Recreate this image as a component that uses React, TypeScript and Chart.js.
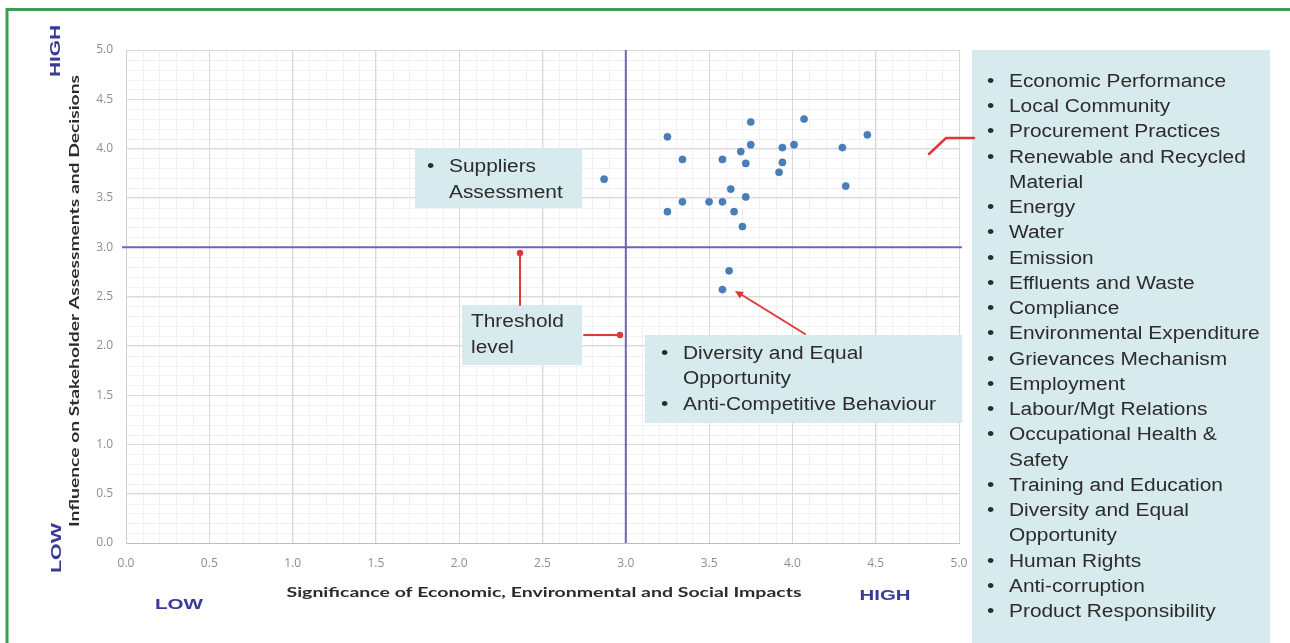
import React, { useEffect, useRef } from "react";
import { Chart, registerables } from "chart.js";

Chart.register(...registerables);

// ---- data ----
const significance = [
  3.25, 3.75, 4.07, 4.45, 3.34, 3.58, 3.69, 3.75, 3.72, 3.94, 4.01, 4.3, 3.94,
  3.92, 4.32, 2.87, 3.63, 3.72, 3.34, 3.5, 3.58, 3.25, 3.65, 3.7, 3.62, 3.58,
];
const influence = [
  4.12, 4.27, 4.3, 4.14, 3.89, 3.89, 3.97, 4.04, 3.85, 4.01, 4.04, 4.01, 3.86,
  3.76, 3.62, 3.69, 3.59, 3.51, 3.46, 3.46, 3.46, 3.36, 3.36, 3.21, 2.76, 2.57,
];
const axisTicks = [0, 0.5, 1, 1.5, 2, 2.5, 3, 3.5, 4, 4.5, 5];
const thresholdValue = 3.0;

const materialTopics = [
  "Economic Performance",
  "Local Community",
  "Procurement Practices",
  "Renewable and Recycled Material",
  "Energy",
  "Water",
  "Emission",
  "Effluents and Waste",
  "Compliance",
  "Environmental Expenditure",
  "Grievances Mechanism",
  "Employment",
  "Labour/Mgt Relations",
  "Occupational Health & Safety",
  "Training and Education",
  "Diversity and Equal Opportunity",
  "Human Rights",
  "Anti-corruption",
  "Product Responsibility",
];
const supplierNote = ["Suppliers", "Assessment"];
const thresholdNote = ["Threshold", "level"];
const lowTopics = ["Diversity and Equal Opportunity", "Anti-Competitive Behaviour"];

const xTitle = "Significance of Economic, Environmental and Social Impacts";
const yTitle = "Influence on Stakeholder Assessments and Decisions";

// ---- styles ----
const BOX_FILL = "#d7eaed";
const TEXT_DARK = "#2c2c2c";
const RED = "#e0383a";
const PURPLE = "#6c64bd";
const LEVEL = "#3b3a98";
const BOX_FONT = '18px "Liberation Sans", Arial, sans-serif';
const SX = 1.16;

function drawScaled(ctx: CanvasRenderingContext2D, text: string, x: number, y: number, sx: number) {
  ctx.save();
  ctx.translate(x, y);
  ctx.scale(sx, 1);
  ctx.fillText(text, 0, 0);
  ctx.restore();
}

function drawFit(
  ctx: CanvasRenderingContext2D,
  text: string,
  cx: number,
  cy: number,
  width: number,
  rot = 0
) {
  ctx.save();
  ctx.translate(cx, cy);
  ctx.rotate(rot);
  const w = ctx.measureText(text).width;
  ctx.scale(width / w, 1);
  ctx.textAlign = "center";
  ctx.textBaseline = "middle";
  ctx.fillText(text, 0, 0);
  ctx.restore();
}

function wrap(ctx: CanvasRenderingContext2D, text: string, maxW: number): string[] {
  const words = text.split(" ");
  const lines: string[] = [];
  let cur = "";
  for (const w of words) {
    const t = cur ? cur + " " + w : w;
    if (ctx.measureText(t).width * SX > maxW && cur) {
      lines.push(cur);
      cur = w;
    } else cur = t;
  }
  if (cur) lines.push(cur);
  return lines;
}

function dot(ctx: CanvasRenderingContext2D, x: number, y: number, r = 3.2) {
  ctx.beginPath();
  ctx.arc(x, y, r, 0, Math.PI * 2);
  ctx.fill();
}

const decorPlugin = {
  id: "decor",
  beforeDraw(chart: any) {
    const { ctx, chartArea, scales } = chart;
    ctx.save();
    ctx.fillStyle = "#ffffff";
    ctx.fillRect(0, 0, chart.width, chart.height);
    // minor grid
    ctx.strokeStyle = "#f1f1f1";
    ctx.lineWidth = 1;
    for (let i = 0; i <= 50; i++) {
      const v = i / 10;
      const px = Math.round(scales.x.getPixelForValue(v)) + 0.5;
      const py = Math.round(scales.y.getPixelForValue(v)) + 0.5;
      ctx.beginPath();
      ctx.moveTo(px, chartArea.top);
      ctx.lineTo(px, chartArea.bottom);
      ctx.stroke();
      ctx.beginPath();
      ctx.moveTo(chartArea.left, py);
      ctx.lineTo(chartArea.right, py);
      ctx.stroke();
    }
    ctx.restore();
  },
  beforeDatasetsDraw(chart: any) {
    const { ctx, chartArea, scales } = chart;
    ctx.save();
    // threshold lines
    ctx.strokeStyle = PURPLE;
    ctx.lineWidth = 2;
    const tx = scales.x.getPixelForValue(thresholdValue);
    const ty = scales.y.getPixelForValue(thresholdValue);
    ctx.beginPath();
    ctx.moveTo(tx, chartArea.top);
    ctx.lineTo(tx, chartArea.bottom);
    ctx.stroke();
    ctx.beginPath();
    ctx.moveTo(chartArea.left - 4, ty);
    ctx.lineTo(chartArea.right + 3, ty);
    ctx.stroke();

    // annotation boxes
    ctx.fillStyle = BOX_FILL;
    ctx.fillRect(415, 148, 167, 60);
    ctx.fillRect(462, 305, 120, 60);
    ctx.fillRect(645, 335, 317, 88);
    ctx.fillRect(972, 50, 298, 593);

    ctx.fillStyle = TEXT_DARK;
    ctx.font = BOX_FONT;
    ctx.textBaseline = "middle";
    ctx.textAlign = "left";
    // suppliers
    drawScaled(ctx, "•", 427, 167, SX);
    drawScaled(ctx, supplierNote[0], 449, 167, SX);
    drawScaled(ctx, supplierNote[1], 449, 193, SX);
    // threshold
    drawScaled(ctx, thresholdNote[0], 471, 322, SX);
    drawScaled(ctx, thresholdNote[1], 471, 348, SX);
    // low topics
    let ly = 354;
    for (const t of lowTopics) {
      const lines = wrap(ctx, t, 265);
      drawScaled(ctx, "•", 661, ly, SX);
      for (const l of lines) {
        drawScaled(ctx, l, 683, ly, SX);
        ly += 25.5;
      }
    }
    // material topics list
    let y = 82;
    for (const t of materialTopics) {
      const lines = wrap(ctx, t, 256);
      drawScaled(ctx, "•", 987, y, SX);
      for (const l of lines) {
        drawScaled(ctx, l, 1009, y, SX);
        y += 25.24;
      }
    }
    ctx.restore();
  },
  afterDatasetsDraw(chart: any) {
    const { ctx } = chart;
    ctx.save();
    ctx.strokeStyle = RED;
    ctx.fillStyle = RED;
    ctx.lineWidth = 2;
    ctx.lineCap = "round";
    // threshold arrows
    ctx.beginPath();
    ctx.moveTo(520, 305);
    ctx.lineTo(520, 253);
    ctx.stroke();
    dot(ctx, 520, 253);
    ctx.beginPath();
    ctx.moveTo(584, 335);
    ctx.lineTo(620, 335);
    ctx.stroke();
    dot(ctx, 620, 335);
    // diversity arrow
    ctx.beginPath();
    ctx.moveTo(805, 334);
    ctx.lineTo(742, 295);
    ctx.stroke();
    const ang = Math.atan2(295 - 334, 742 - 805);
    ctx.beginPath();
    ctx.moveTo(735, 291);
    ctx.lineTo(735 - 9 * Math.cos(ang - 0.45), 291 - 9 * Math.sin(ang - 0.45));
    ctx.lineTo(735 - 9 * Math.cos(ang + 0.45), 291 - 9 * Math.sin(ang + 0.45));
    ctx.closePath();
    ctx.fill();
    // connector to list
    ctx.lineWidth = 2.5;
    ctx.beginPath();
    ctx.moveTo(929, 154);
    ctx.lineTo(946, 138);
    ctx.lineTo(974, 138);
    ctx.stroke();
    ctx.restore();
  },
  afterDraw(chart: any) {
    const { ctx } = chart;
    ctx.save();
    // axis titles
    ctx.fillStyle = "#2b2b2b";
    ctx.font = 'bold 13px Lato, "Open Sans", sans-serif';
    drawFit(ctx, xTitle, 544, 593, 515);
    drawFit(ctx, yTitle, 75, 301, 452, -Math.PI / 2);
    // HIGH / LOW
    ctx.fillStyle = LEVEL;
    ctx.font = 'bold 15px "Liberation Sans", Arial, sans-serif';
    drawFit(ctx, "HIGH", 56, 51, 52, -Math.PI / 2);
    drawFit(ctx, "LOW", 57, 548, 50, -Math.PI / 2);
    drawFit(ctx, "LOW", 179, 605, 48);
    drawFit(ctx, "HIGH", 885, 596, 51);
    // green frame
    ctx.strokeStyle = "#3f9c52";
    ctx.lineWidth = 3;
    ctx.beginPath();
    ctx.moveTo(7, 643);
    ctx.lineTo(7, 9.5);
    ctx.lineTo(1290, 9.5);
    ctx.stroke();
    ctx.restore();
  },
};

export default function App() {
  const ref = useRef<HTMLCanvasElement | null>(null);
  useEffect(() => {
    if (!ref.current) return;
    const points = significance.map((x, i) => ({ x, y: influence[i] }));
    const tickCb = (v: any) => Number(v).toFixed(1);
    const chart = new Chart(ref.current, {
      type: "scatter",
      data: {
        datasets: [
          {
            data: points,
            backgroundColor: "#4a7ebb",
            borderColor: "#3f6fa8",
            borderWidth: 0.5,
            pointRadius: 3.6,
          },
        ],
      },
      options: {
        animation: false,
        responsive: false,
        devicePixelRatio: 1,
        layout: { padding: { left: 0, top: 50, right: 331, bottom: 0 } },
        plugins: { legend: { display: false }, tooltip: { enabled: false } },
        scales: {
          x: {
            type: "linear",
            min: 0,
            max: 5,
            afterFit: (s: any) => {
              s.height = 100;
            },
            afterBuildTicks: (s: any) => {
              s.ticks = axisTicks.map((v) => ({ value: v }));
            },
            grid: { color: "#d9d9d9", drawTicks: false },
            border: { color: "#bdbdbd", width: 1 },
            ticks: {
              padding: 13,
              color: "#8e8e8e",
              font: { family: '"Open Sans", sans-serif', size: 12 },
              callback: tickCb,
            },
          },
          y: {
            type: "linear",
            min: 0,
            max: 5,
            afterFit: (s: any) => {
              s.width = 126;
            },
            afterBuildTicks: (s: any) => {
              s.ticks = axisTicks.map((v) => ({ value: v }));
            },
            grid: { color: "#d9d9d9", drawTicks: false },
            border: { color: "#cfcfcf", width: 1 },
            ticks: {
              padding: 13,
              color: "#8e8e8e",
              font: { family: '"Open Sans", sans-serif', size: 12 },
              callback: tickCb,
            },
          },
        },
      },
      plugins: [decorPlugin],
    });
    return () => chart.destroy();
  }, []);
  return (
    <div style={{ position: "fixed", left: 0, top: 0, width: 1290, height: 643, background: "#fff" }}>
      <canvas ref={ref} width={1290} height={643} style={{ width: 1290, height: 643, display: "block" }} />
    </div>
  );
}
